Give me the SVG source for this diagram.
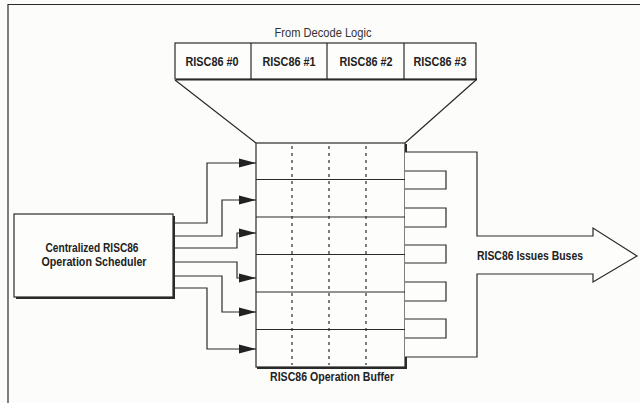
<svg xmlns="http://www.w3.org/2000/svg" width="640" height="403" viewBox="0 0 640 403">
<style>
.ln{fill:none;stroke:#2a2a2a;stroke-width:1.2}
.box{fill:#fdfdfb;stroke:#2a2a2a;stroke-width:1.2}
.sh{fill:#2a2a2a}
.dot{stroke:#2a2a2a;stroke-width:1.2;stroke-dasharray:3 4}
.t{font-family:"Liberation Sans",Arial,sans-serif;font-size:13px;font-weight:bold;fill:#222}
.r{font-family:"Liberation Sans",Arial,sans-serif;font-size:12px;fill:#333}
</style>
<defs>
<marker id="ah" markerWidth="17" markerHeight="10" refX="17" refY="5" orient="auto" markerUnits="userSpaceOnUse">
<path d="M0,0.5 L17,5 L0,9.5 Z" fill="#222"/>
</marker>
</defs>
<rect width="640" height="403" fill="#fcfcfa"/>
<path class="ln" d="M8,403 V4.5 H640" stroke="#555"/>

<g id="decode">
<text class="r" x="323" y="37" text-anchor="middle" textLength="97" lengthAdjust="spacingAndGlyphs">From Decode Logic</text>
<rect class="sh" x="176" y="78" width="301" height="2.5"/>
<rect class="box" x="175" y="43" width="301" height="36"/>
<line class="ln" x1="251" y1="43" x2="251" y2="79"/>
<line class="ln" x1="327" y1="43" x2="327" y2="79"/>
<line class="ln" x1="404" y1="43" x2="404" y2="79"/>
<text class="t" x="212" y="66" text-anchor="middle" textLength="53" lengthAdjust="spacingAndGlyphs">RISC86 #0</text>
<text class="t" x="289" y="66" text-anchor="middle" textLength="53" lengthAdjust="spacingAndGlyphs">RISC86 #1</text>
<text class="t" x="366" y="66" text-anchor="middle" textLength="53" lengthAdjust="spacingAndGlyphs">RISC86 #2</text>
<text class="t" x="440" y="66" text-anchor="middle" textLength="53" lengthAdjust="spacingAndGlyphs">RISC86 #3</text>
</g>

<g id="scheduler">
<rect class="sh" x="16" y="216" width="159" height="83"/>
<rect class="box" x="14" y="214" width="159" height="83"/>
<text class="t" x="92" y="252" text-anchor="middle" textLength="93" lengthAdjust="spacingAndGlyphs">Centralized RISC86</text>
<text class="t" x="94" y="266" text-anchor="middle" textLength="105" lengthAdjust="spacingAndGlyphs">Operation Scheduler</text>
</g>

<g id="buffer">
<rect class="sh" x="257" y="144" width="150" height="225"/>
<rect class="box" x="256" y="143" width="149" height="224"/>
<line class="ln" x1="256" y1="179.5" x2="405" y2="179.5"/>
<line class="ln" x1="256" y1="217" x2="405" y2="217"/>
<line class="ln" x1="256" y1="254.5" x2="405" y2="254.5"/>
<line class="ln" x1="256" y1="292" x2="405" y2="292"/>
<line class="ln" x1="256" y1="329.5" x2="405" y2="329.5"/>
<line class="dot" x1="292" y1="146" x2="292" y2="365"/>
<line class="dot" x1="329" y1="146" x2="329" y2="365"/>
<line class="dot" x1="366" y1="146" x2="366" y2="365"/>
<text class="t" x="332" y="381" text-anchor="middle" textLength="124" lengthAdjust="spacingAndGlyphs">RISC86 Operation Buffer</text>
</g>

<g id="issue-bus">
<path class="box" d="M405,152 H477 V236 H593 V228 L637,256 L593,282 V274 H477 V357 H405"/>
<text class="t" x="477" y="260" textLength="106" lengthAdjust="spacingAndGlyphs">RISC86 Issues Buses</text>
</g>

<g id="connectors">
<path class="ln" d="M175,80 L256,143"/>
<path class="ln" d="M476,80 L405,143"/>
<path class="ln" d="M405,171 H446 V189 H405"/>
<path class="ln" d="M405,208 H446 V227 H405"/>
<path class="ln" d="M405,245 H446 V263 H405"/>
<path class="ln" d="M405,282 H446 V301 H405"/>
<path class="ln" d="M405,319 H446 V338 H405"/>
<path class="ln" d="M173,223 H207 V163 H256" marker-end="url(#ah)"/>
<path class="ln" d="M173,236 H222 V200 H256" marker-end="url(#ah)" stroke-width="2"/>
<path class="ln" d="M173,248 H237 V233 H256" marker-end="url(#ah)"/>
<path class="ln" d="M173,262 H237 V278 H256" marker-end="url(#ah)"/>
<path class="ln" d="M173,276 H222 V312 H256" marker-end="url(#ah)"/>
<path class="ln" d="M173,288 H207 V349 H256" marker-end="url(#ah)"/>
</g>
</svg>
